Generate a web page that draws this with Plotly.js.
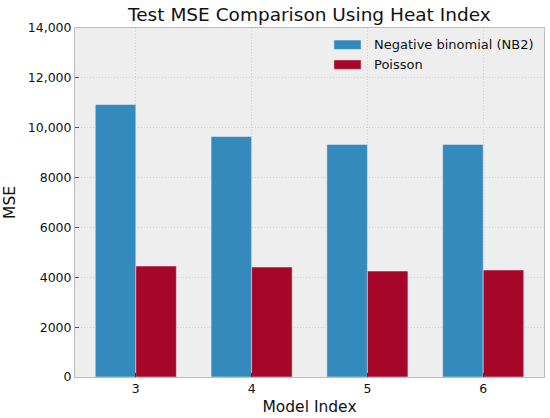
<!DOCTYPE html>
<html>
<head>
<meta charset="utf-8">
<script src="https://cdn.plot.ly/plotly-3.0.1.min.js"></script>
<style>html,body{margin:0;padding:0;background:#fff}#chart{width:550px;height:418px}</style>
</head>
<body>
<div id="chart"></div>
<script>
var modelIndex = [3, 4, 5, 6];
var nb2Mse = [10930, 9650, 9330, 9330];
var poissonMse = [4450, 4410, 4250, 4290];
var seriesNames = ["Negative binomial (NB2)", "Poisson"];
var seriesColors = ["#348ABD", "#A60628"];
var yTickVals = [0, 2000, 4000, 6000, 8000, 10000, 12000, 14000];
var yTickText = ["0", "2000", "4000", "6000", "8000", "10,000", "12,000", "14,000"];

var font = "DejaVu Sans, sans-serif";
var traces = [
  {type: "bar", x: modelIndex, y: nb2Mse, name: seriesNames[0],
   marker: {color: seriesColors[0], line: {color: "#eeeeee", width: 0.5}}, hoverinfo: "none"},
  {type: "bar", x: modelIndex, y: poissonMse, name: seriesNames[1],
   marker: {color: seriesColors[1], line: {color: "#eeeeee", width: 0.5}}, hoverinfo: "none"}
];

var legendShapes = [], legendAnn = [];
var ys = [0.952, 0.895];
for (var i = 0; i < seriesNames.length; i++) {
  legendShapes.push({type: "rect", xref: "paper", yref: "paper",
    x0: 0.552, x1: 0.610, y0: ys[i] - 0.0135, y1: ys[i] + 0.0135,
    fillcolor: seriesColors[i], line: {color: "#eeeeee", width: 0.5}});
  legendAnn.push({xref: "paper", yref: "paper", x: 0.633, y: ys[i],
    xanchor: "left", yanchor: "middle", showarrow: false, text: seriesNames[i],
    font: {family: font, size: 13, color: "#111"}});
}

var gridDash = "1px,2px";
var layout = {
  width: 550, height: 418,
  margin: {l: 75, r: 6, t: 27.5, b: 40.7, pad: 0},
  paper_bgcolor: "#ffffff", plot_bgcolor: "#eeeeee",
  barmode: "group", bargap: 0.3, bargroupgap: 0,
  showlegend: false,
  title: {text: "Test MSE Comparison Using Heat Index", x: 0.5625, xanchor: "center",
    y: 0.966, yanchor: "middle", font: {family: font, size: 18.5, color: "#111"}},
  xaxis: {range: [2.475, 6.525], tickvals: modelIndex, ticktext: modelIndex.map(String),
    showgrid: true, gridcolor: "#cfcfcf", gridwidth: 1, griddash: gridDash,
    showline: true, mirror: true, linecolor: "#bcbcbc", linewidth: 1,
    ticks: "inside", ticklen: 4, tickcolor: "#333", zeroline: false,
    tickfont: {family: font, size: 12.5, color: "#111"},
    title: {text: "Model Index", font: {family: font, size: 15.5, color: "#111"}, standoff: 6}},
  yaxis: {range: [0, 14000], tickvals: yTickVals, ticktext: yTickText,
    showgrid: true, gridcolor: "#cfcfcf", gridwidth: 1, griddash: gridDash,
    showline: true, mirror: true, linecolor: "#bcbcbc", linewidth: 1,
    ticks: "inside", ticklen: 4, tickcolor: "#555", zeroline: false,
    tickfont: {family: font, size: 12.5, color: "#111"},
    title: {text: "MSE", font: {family: font, size: 15.5, color: "#111"}, standoff: 8}},
  shapes: legendShapes,
  annotations: legendAnn
};
Plotly.newPlot("chart", traces, layout, {staticPlot: true});
</script>
</body>
</html>
